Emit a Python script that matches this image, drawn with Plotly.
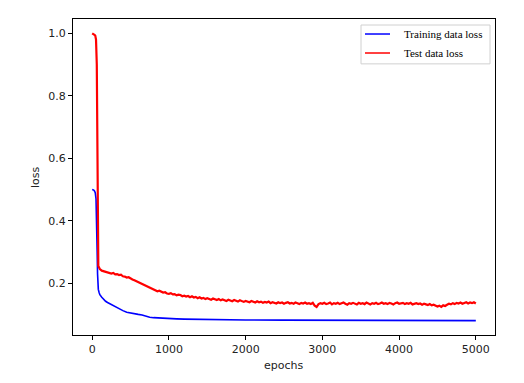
import plotly.graph_objects as go

# ---- data ----
test_epochs = [0, 10, 20, 30, 40, 50, 60, 65, 70, 75, 80, 90, 100, 125, 150, 175, 200] + list(range(225, 5001, 25))
test_loss = [1.000, 0.999, 0.997, 0.995, 0.993, 0.980, 0.900, 0.600, 0.350, 0.262, 0.255, 0.250, 0.245, 0.240, 0.238, 0.236, 0.235,
             0.234, 0.231, 0.233, 0.228, 0.229, 0.226, 0.227, 0.222,
             0.221, 0.218, 0.219, 0.214, 0.212, 0.209, 0.206, 0.203,
             0.201, 0.198, 0.194, 0.192, 0.189, 0.185, 0.182, 0.178,
             0.177, 0.174, 0.176, 0.172, 0.170, 0.171, 0.167, 0.166,
             0.168, 0.164, 0.165, 0.161, 0.163, 0.162, 0.158, 0.160,
             0.157, 0.159, 0.155, 0.158, 0.154, 0.156, 0.152, 0.155,
             0.151, 0.153, 0.149, 0.152, 0.150, 0.147, 0.151, 0.148,
             0.146, 0.149, 0.145, 0.148, 0.146, 0.143, 0.147, 0.144,
             0.142, 0.146, 0.143, 0.141, 0.145, 0.142, 0.140, 0.143,
             0.141, 0.139, 0.143, 0.140, 0.138, 0.142, 0.139, 0.141,
             0.137, 0.140, 0.138, 0.141, 0.136, 0.139, 0.137, 0.135,
             0.139, 0.136, 0.138, 0.134, 0.137, 0.139, 0.135, 0.137,
             0.134, 0.138, 0.136, 0.133, 0.137, 0.135, 0.138, 0.134,
             0.136, 0.133, 0.137, 0.128, 0.124, 0.133, 0.136, 0.134,
             0.137, 0.133, 0.135, 0.138, 0.132, 0.136, 0.134, 0.137,
             0.133, 0.136, 0.138, 0.134, 0.131, 0.136, 0.134, 0.137,
             0.135, 0.132, 0.137, 0.134, 0.136, 0.133, 0.138, 0.135,
             0.132, 0.136, 0.134, 0.137, 0.133, 0.135, 0.138, 0.134,
             0.136, 0.133, 0.137, 0.135, 0.132, 0.136, 0.138, 0.134,
             0.135, 0.137, 0.133, 0.136, 0.134, 0.137, 0.132, 0.135,
             0.136, 0.133, 0.135, 0.131, 0.134, 0.132, 0.130, 0.133,
             0.129, 0.131, 0.127, 0.125, 0.128, 0.124, 0.129, 0.127,
             0.131, 0.134, 0.132, 0.136, 0.133, 0.137, 0.135, 0.138,
             0.134, 0.137, 0.139, 0.135, 0.138, 0.136, 0.139, 0.135]

train_epochs = [0, 10, 20, 30, 40, 50, 60, 65, 70, 75, 80, 90, 100, 125, 150, 175, 200,
                250, 300, 350, 400, 450, 500, 550, 600, 650, 700, 750, 800, 850, 900, 950, 1000,
                1100, 1200, 1400, 1600, 1800, 2000, 2500, 3000, 3500, 4000, 4500, 5000]
train_loss = [0.500, 0.500, 0.498, 0.495, 0.490, 0.470, 0.400, 0.300, 0.230, 0.200, 0.180, 0.170, 0.163, 0.155, 0.148, 0.142, 0.138,
              0.131, 0.125, 0.118, 0.112, 0.107, 0.104, 0.102, 0.100, 0.098, 0.094, 0.091, 0.0895, 0.0885, 0.0875, 0.087, 0.0865,
              0.0855, 0.0847, 0.0838, 0.083, 0.0824, 0.082, 0.0815, 0.081, 0.0806, 0.0803, 0.0801, 0.080]

series_names = ["Training data loss", "Test data loss"]
series_colors = ["#0000ff", "#ff0000"]
x_ticks = [0, 1000, 2000, 3000, 4000, 5000]
y_ticks = [0.2, 0.4, 0.6, 0.8, 1.0]

fig = go.Figure()
fig.add_trace(go.Scatter(x=train_epochs, y=train_loss, mode="lines", name=series_names[0],
                         line=dict(color=series_colors[0], width=1.6), showlegend=False))
fig.add_trace(go.Scatter(x=test_epochs, y=test_loss, mode="lines", name=series_names[1],
                         line=dict(color=series_colors[1], width=2.2), showlegend=False))

axis_common = dict(showline=True, linecolor="#000", linewidth=1, mirror=True, ticks="outside",
                   ticklen=4, tickwidth=1, tickcolor="#000", showgrid=False, zeroline=False,
                   automargin=False,
                   tickfont=dict(family="DejaVu Sans", size=11, color="#222"))

title_font = dict(family="DejaVu Sans", size=11, color="#222")

# legend drawn in paper coordinates (box, sample lines, labels)
leg_x0, leg_x1, leg_y0, leg_y1 = 0.6825, 0.9882, 0.858, 0.981
line_x0, line_x1, text_x = 0.6919, 0.7512, 0.7796
row_y = [0.9525, 0.8924]

shapes = [dict(type="rect", xref="paper", yref="paper", x0=leg_x0, x1=leg_x1, y0=leg_y0, y1=leg_y1,
               line=dict(color="#d0d0d0", width=1), fillcolor="white", layer="above")]
annotations = [
    dict(text="epochs", xref="paper", yref="paper", x=0.5, y=0, xanchor="center", yanchor="top",
         yshift=-22, showarrow=False, font=title_font),
    dict(text="loss", xref="paper", yref="paper", x=0, y=0.5, xanchor="center", yanchor="middle",
         xshift=-38, textangle=-90, showarrow=False, font=title_font),
]
for name, color, ry in zip(series_names, series_colors, row_y):
    shapes.append(dict(type="line", xref="paper", yref="paper", x0=line_x0, x1=line_x1, y0=ry, y1=ry,
                       line=dict(color=color, width=1.5), layer="above"))
    annotations.append(dict(text=name, xref="paper", yref="paper", x=text_x, y=ry, xanchor="left",
                            yanchor="middle", showarrow=False,
                            font=dict(family="Liberation Serif", size=11, color="#000")))

# page body has an 8px margin, so the figure is drawn 8px in from the top-left
fig.update_layout(
    width=516, height=375,
    margin=dict(l=65, r=29, t=11, b=48),
    paper_bgcolor="white", plot_bgcolor="white",
    xaxis=dict(range=[-250, 5250], tickvals=x_ticks, ticktext=[str(v) for v in x_ticks], **axis_common),
    yaxis=dict(range=[0.034, 1.046], tickvals=y_ticks, ticktext=["%.1f" % v for v in y_ticks], **axis_common),
    showlegend=False,
    shapes=shapes,
    annotations=annotations,
)

fig.write_html("out.html")
